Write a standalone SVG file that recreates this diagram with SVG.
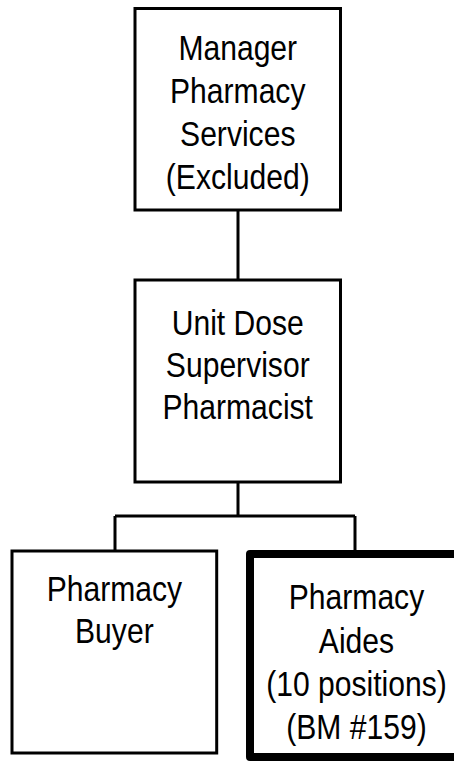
<svg xmlns="http://www.w3.org/2000/svg" width="454" height="761" viewBox="0 0 454 761">
<style>
.box{fill:#fff;stroke:#000;stroke-width:3}
.thick{fill:#fff;stroke:#000;stroke-width:8;stroke-linejoin:round}
.ln{fill:none;stroke:#000;stroke-width:3}
.t{font-family:"Liberation Sans",Arial,sans-serif;font-size:35px;fill:#000;text-anchor:middle}
</style>
<rect width="454" height="761" fill="#fff"/>
<g id="connectors">
<path class="ln" d="M238,210 V280 M238,482 V516 M115,516 H355 M115,516 V551 M355,516 V554"/>
</g>
<g id="manager">
<rect class="box" x="135" y="8.5" width="205.5" height="201.5"/>
<g transform="translate(237.75,0) scale(0.86,1)">
<text class="t" x="0" y="60.5">Manager</text>
<text class="t" x="0" y="103.5">Pharmacy</text>
<text class="t" x="0" y="146.5">Services</text>
<text class="t" x="0" y="189.5">(Excluded)</text>
</g>
</g>
<g id="supervisor">
<rect class="box" x="135" y="280" width="205.5" height="202"/>
<g transform="translate(237.75,0) scale(0.86,1)">
<text class="t" x="0" y="335">Unit Dose</text>
<text class="t" x="0" y="377">Supervisor</text>
<text class="t" x="0" y="419">Pharmacist</text>
</g>
</g>
<g id="buyer">
<rect class="box" x="12" y="551" width="204.7" height="202"/>
<g transform="translate(114.35,0) scale(0.86,1)">
<text class="t" x="0" y="601">Pharmacy</text>
<text class="t" x="0" y="643">Buyer</text>
</g>
</g>
<g id="aides">
<rect class="thick" x="250" y="554" width="212" height="203"/>
<g transform="translate(356.5,0) scale(0.86,1)">
<text class="t" x="0" y="609">Pharmacy</text>
<text class="t" x="0" y="653">Aides</text>
<text class="t" x="0" y="696">(10 positions)</text>
<text class="t" x="0" y="739">(BM #159)</text>
</g>
</g>
</svg>
